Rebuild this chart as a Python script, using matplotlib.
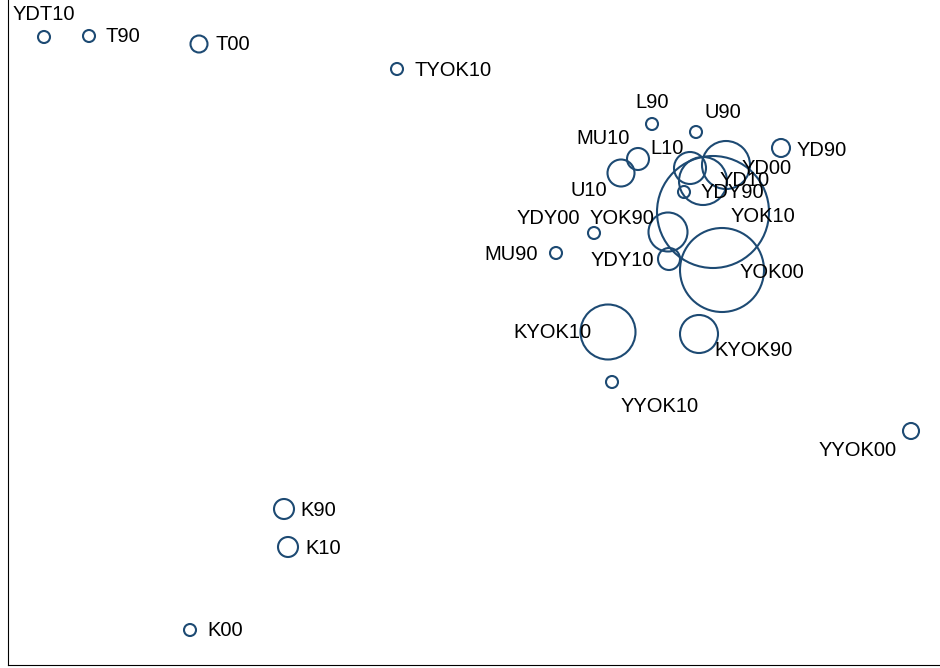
import matplotlib
matplotlib.use('Agg')
import matplotlib.pyplot as plt

# bubble chart: labels, positions (x, y) and bubble radius values
labels = ['YDT10', 'T90', 'T00', 'TYOK10', 'L90', 'U90', 'MU10', 'U10', 'L10',
          'YD00', 'YD10', 'YDY90', 'YOK10', 'YOK90', 'YDY00', 'MU90', 'YDY10',
          'YOK00', 'KYOK10', 'KYOK90', 'YYOK10', 'YYOK00', 'K90', 'K10', 'K00', 'YD90']
x_vals = [44, 89, 199, 397, 652, 696, 638, 621, 690,
          726, 703, 684, 713, 668, 594, 556, 669,
          722, 608, 699, 612, 911, 284, 288, 190, 781]
y_vals = [631, 632, 624, 599, 544, 536, 509, 495, 500,
          503, 487, 476, 456, 436, 435, 415, 409,
          398, 336, 334, 286, 237, 159, 121, 38, 520]
sizes = [6, 6, 8.5, 6, 6, 6, 11, 13.5, 16,
         24, 24, 6, 56, 19.5, 6, 6, 11,
         42, 27.5, 19, 6, 8, 10, 10, 6, 9]

# label offsets in pixels (dx right, dy down)
label_offsets = {
    'YDT10': (0, -23), 'T90': (34, 1), 'T00': (34, 1), 'TYOK10': (56, 1),
    'L90': (0, -22), 'U90': (27, -20), 'MU10': (-35, -20), 'U10': (-32, 17),
    'L10': (-23, -20), 'YD00': (41, 4), 'YD10': (42, 0), 'YDY90': (48, 1),
    'YOK10': (50, 4), 'YOK90': (-46, -14), 'YDY00': (-46, -15), 'MU90': (-45, 1),
    'YDY10': (-47, 1), 'YOK00': (50, 3), 'KYOK10': (-56, 1), 'KYOK90': (54, 17),
    'YYOK10': (48, 24), 'YYOK00': (-53, 19), 'K90': (34, 1), 'K10': (35, 1),
    'K00': (35, 1), 'YD90': (41, 2),
}

plt.rcParams['font.family'] = ['Liberation Sans', 'DejaVu Sans']

fig = plt.figure(figsize=(9.4, 6.68), dpi=100)
ax = fig.add_axes([8 / 940, 3 / 668, 1 - 8 / 940, 1 - 3 / 668])

s = [(1.44 * r) ** 2 for r in sizes]
ax.scatter(x_vals, y_vals, s=s, facecolors='none', edgecolors='#1d4a73', linewidths=1.5)

for lab, xv, yv in zip(labels, x_vals, y_vals):
    dx, dy = label_offsets[lab]
    ax.annotate(lab, (xv, yv), xytext=(dx, -dy), textcoords='offset pixels',
                ha='center', va='center', fontsize=14.5, color='black')

ax.set_xlim(8, 940)
ax.set_ylim(3, 668)
ax.set_xticks([])
ax.set_yticks([])
ax.spines['top'].set_visible(False)
ax.spines['right'].set_visible(False)

fig.savefig('out.png', dpi=100)
plt.close(fig)
